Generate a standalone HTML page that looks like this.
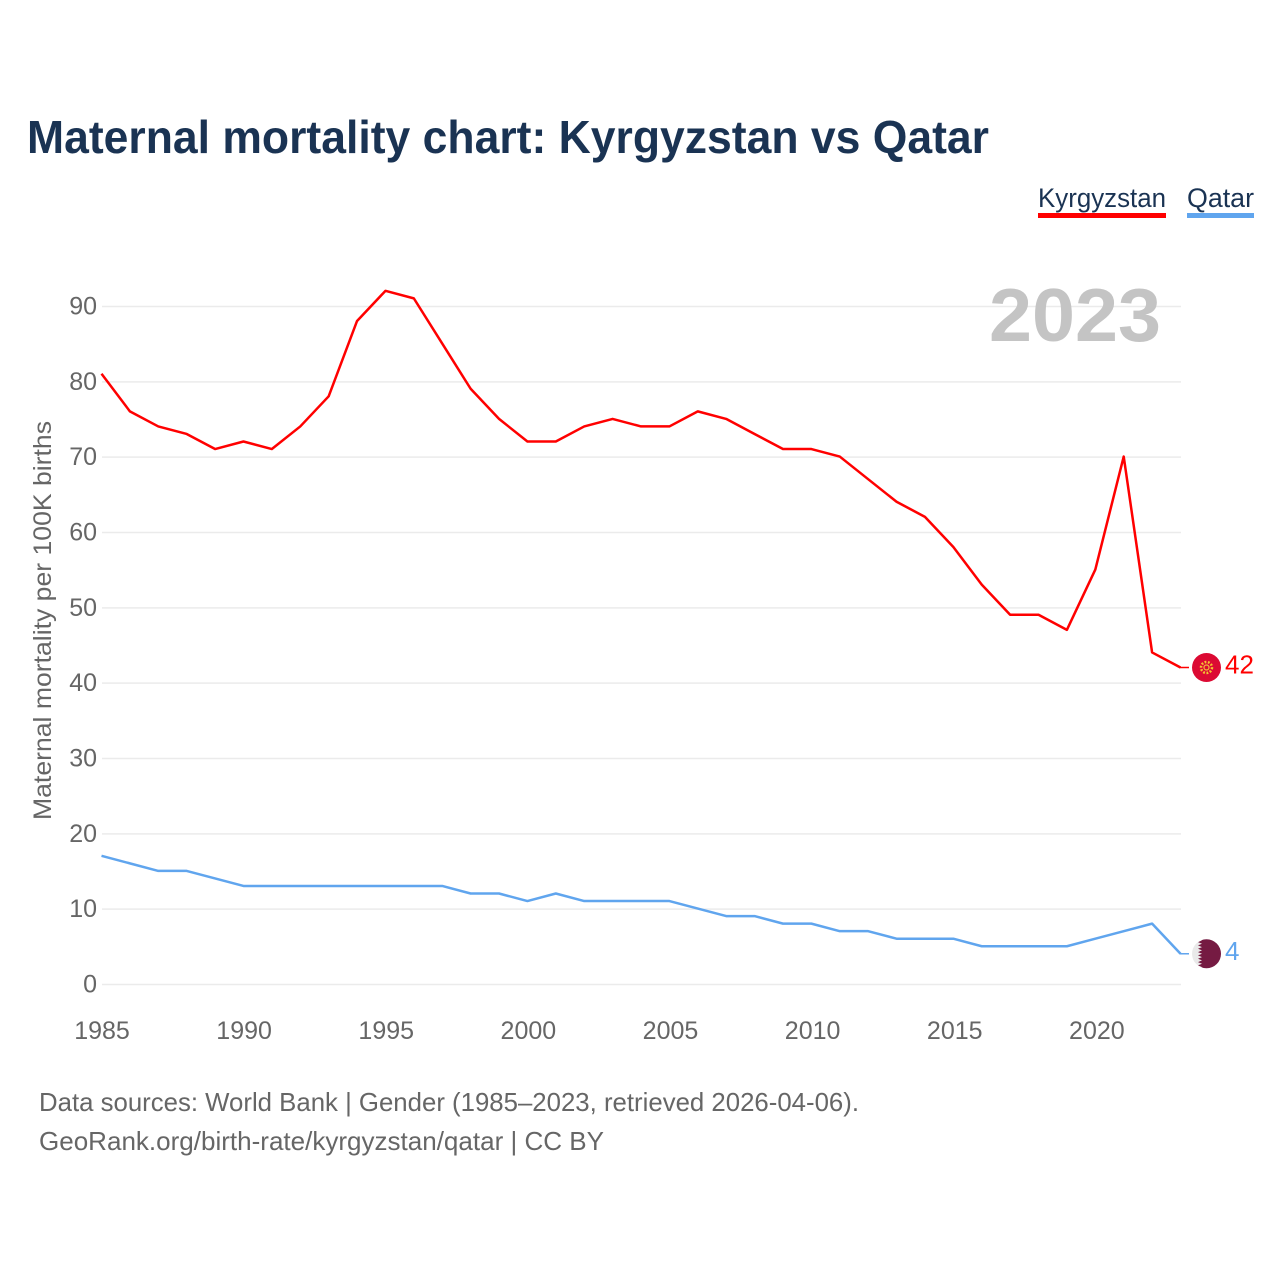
<!DOCTYPE html>
<html lang="en">
<head>
<meta charset="utf-8">
<title>Maternal mortality chart: Kyrgyzstan vs Qatar</title>
<style>
html,body{margin:0;padding:0;background:#fff;width:1280px;height:1280px;overflow:hidden}
svg{display:block;font-family:"Liberation Sans",sans-serif}
</style>
</head>
<body>
<svg id="chart" width="1280" height="1280" viewBox="0 0 1280 1280" xmlns="http://www.w3.org/2000/svg">
  <defs>
    <clipPath id="flag-clip-qa"><circle cx="0" cy="0" r="14.5"/></clipPath>
  </defs>
  <text x="27" y="153" font-size="46" font-weight="700" fill="#1a3353" textLength="962" lengthAdjust="spacingAndGlyphs">Maternal mortality chart: Kyrgyzstan vs Qatar</text>

  <g>
    <g>
      <text x="1038" y="207" font-size="27" fill="#1a3353" textLength="128" lengthAdjust="spacingAndGlyphs">Kyrgyzstan</text>
      <rect x="1038" y="213" width="128" height="5" fill="#ff0000"/>
    </g>
    <g>
      <text x="1187" y="207" font-size="27" fill="#1a3353" textLength="67" lengthAdjust="spacingAndGlyphs">Qatar</text>
      <rect x="1187" y="213" width="67" height="5" fill="#60a5ee"/>
    </g>
  </g>

  <g id="grid"></g>
  <g id="y-ticks"></g>
  <g id="x-ticks"></g>

  <text transform="translate(51,820) rotate(-90)" font-size="25" fill="#666666" textLength="399" lengthAdjust="spacingAndGlyphs">Maternal mortality per 100K births</text>

  <text x="989" y="341" font-size="75" font-weight="700" fill="#c4c4c4" textLength="172" lengthAdjust="spacingAndGlyphs">2023</text>

  <g id="series" transform="translate(-0.5,-0.6)"></g>
  <g id="ends"></g>

  <text x="39" y="1111" font-size="26" fill="#666666" textLength="820" lengthAdjust="spacingAndGlyphs">Data sources: World Bank | Gender (1985–2023, retrieved 2026-04-06).</text>
  <text x="39" y="1150" font-size="26" fill="#666666" textLength="565" lengthAdjust="spacingAndGlyphs">GeoRank.org/birth-rate/kyrgyzstan/qatar | CC BY</text>
</svg>
<script>
const years = [1985,1986,1987,1988,1989,1990,1991,1992,1993,1994,1995,1996,1997,1998,1999,2000,2001,2002,2003,2004,2005,2006,2007,2008,2009,2010,2011,2012,2013,2014,2015,2016,2017,2018,2019,2020,2021,2022,2023];
const kyrgyzstan = [81,76,74,73,71,72,71,74,78,88,92,91,85,79,75,72,72,74,75,74,74,76,75,73,71,71,70,67,64,62,58,53,49,49,47,55,70,44,42];
const qatar = [17,16,15,15,14,13,13,13,13,13,13,13,13,12,12,11,12,11,11,11,11,10,9,9,8,8,7,7,6,6,6,5,5,5,5,6,7,8,4];
const yTickValues = [0,10,20,30,40,50,60,70,80,90];
const xTickYears = [1985,1990,1995,2000,2005,2010,2015,2020];

const NS = 'http://www.w3.org/2000/svg';
const xScale = function (year) { return 102 + (year - 1985) * (1181 - 102) / (2023 - 1985); };
const yScale = function (value) { return 984.5 - value * (984.5 - 306.5) / 90; };
const make = function (tag, parent) {
  const el = document.createElementNS(NS, tag);
  parent.appendChild(el);
  return el;
};

const grid = document.getElementById('grid');
const yTicks = document.getElementById('y-ticks');
yTickValues.forEach(function (v) {
  const line = make('line', grid);
  
  
  line.setAttribute('x1', 102);
  line.setAttribute('x2', 1181);
  line.setAttribute('y1', yScale(v));
  line.setAttribute('y2', yScale(v));
  line.setAttribute('stroke', '#ebebeb');
  line.setAttribute('stroke-width', '1.5');
  const t = make('text', yTicks);
  
  
  t.setAttribute('x', 97);
  t.setAttribute('y', yScale(v) + 8);
  t.setAttribute('text-anchor', 'end');
  t.setAttribute('font-size', '25');
  t.setAttribute('fill', '#666666');
  t.textContent = v;
});

const xTicks = document.getElementById('x-ticks');
xTickYears.forEach(function (y) {
  const t = make('text', xTicks);
  
  
  t.setAttribute('x', xScale(y) + (y - 1985) * 0.03);
  t.setAttribute('y', 1039);
  t.setAttribute('text-anchor', 'middle');
  t.setAttribute('font-size', '25');
  t.setAttribute('fill', '#666666');
  t.textContent = y;
});

const seriesGroup = document.getElementById('series');
const drawLine = function (values, color, width) {
  const p = make('polyline', seriesGroup);
  p.setAttribute('points', values.map(function (v, i) { return xScale(years[i]) + ',' + yScale(v); }).join(' '));
  p.setAttribute('fill', 'none');
  p.setAttribute('stroke', color);
  p.setAttribute('stroke-width', width);
  p.setAttribute('stroke-linejoin', 'round');
  return p;
};
const lineK = drawLine(kyrgyzstan, '#ff0000', 2.5);


const lineQ = drawLine(qatar, '#60a5ee', 2.5);



const ends = document.getElementById('ends');
const lastK = kyrgyzstan[kyrgyzstan.length - 1];
const lastQ = qatar[qatar.length - 1];

const drawEnd = function (value, color) {
  const g = make('g', ends);
  const y = yScale(value) - 0.6;
  const lead = make('line', g);
  
  
  lead.setAttribute('x1', 1180);
  lead.setAttribute('x2', 1189);
  lead.setAttribute('y1', y);
  lead.setAttribute('y2', y);
  lead.setAttribute('stroke', color);
  lead.setAttribute('stroke-width', '1.5');
  const label = make('text', g);
  
  
  label.setAttribute('x', 1225);
  label.setAttribute('y', y + 6);
  label.setAttribute('font-size', '26');
  label.setAttribute('fill', color);
  label.textContent = value;
  const flag = make('g', g);
  flag.setAttribute('transform', 'translate(1206.5,' + y + ')');
  return flag;
};

const flagK = drawEnd(lastK, '#ff0000');


const kBg = make('circle', flagK);
kBg.setAttribute('r', 14.5);
kBg.setAttribute('fill', '#dc0a33');
const kSun = make('circle', flagK);
kSun.setAttribute('r', 5.5);
kSun.setAttribute('fill', 'none');
kSun.setAttribute('stroke', '#f5c531');
kSun.setAttribute('stroke-width', '2.5');
kSun.setAttribute('stroke-dasharray', '1.8 1.6');
const kCore = make('circle', flagK);
kCore.setAttribute('r', 2.5);
kCore.setAttribute('fill', 'none');
kCore.setAttribute('stroke', '#f0b93a');
kCore.setAttribute('stroke-width', '1.2');

const flagQ = drawEnd(lastQ, '#60a5ee');


const qClip = make('g', flagQ);
qClip.setAttribute('clip-path', 'url(#flag-clip-qa)');
const qBg = make('rect', qClip);
qBg.setAttribute('x', -15);
qBg.setAttribute('y', -15);
qBg.setAttribute('width', 30);
qBg.setAttribute('height', 30);
qBg.setAttribute('fill', '#e9e9e9');
const qMaroon = make('polygon', qClip);
const zig = [];
for (let i = 0; i <= 9; i++) {
  const yy = -15 + i * (30 / 9);
  zig.push('-8.5,' + yy);
  if (i < 9) zig.push('-4.5,' + (yy + 15 / 9));
}
qMaroon.setAttribute('points', zig.join(' ') + ' 15,15 15,-15');
qMaroon.setAttribute('fill', '#751a42');
</script>
</body>
</html>
